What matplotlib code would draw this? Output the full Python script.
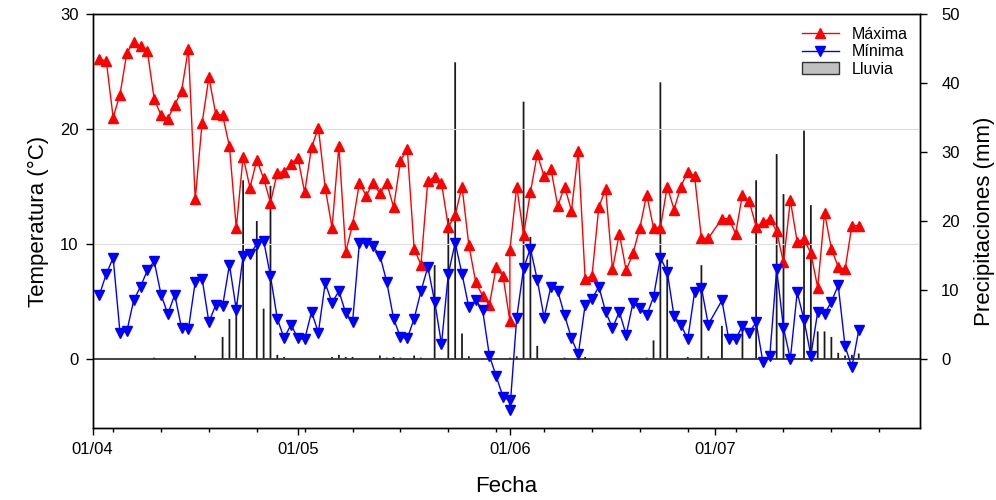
import numpy as np
import matplotlib
matplotlib.use('Agg')
import matplotlib.pyplot as plt
from matplotlib.lines import Line2D
from matplotlib.patches import Patch

plt.rcParams['font.family'] = ['Liberation Sans', 'DejaVu Sans']

# dias contados desde el 01/04 (el 31/05 sale dos veces y falta el 30/06)
dia = np.r_[np.arange(1, 62), 61, np.arange(62, 91), np.arange(92, 113)]

t_max = [26.1, 25.9, 21.0, 23.0, 26.6, 27.6, 27.2, 26.8, 22.6, 21.2,
         20.9, 22.1, 23.3, 27.0, 13.9, 20.5, 24.5, 21.3, 21.2, 18.5,
         11.4, 17.6, 14.9, 17.3, 15.7, 13.6, 16.2, 16.3, 17.0, 17.5,
         14.5, 18.4, 20.1, 14.9, 11.4, 18.5, 9.3, 11.7, 15.3, 14.2,
         15.3, 14.4, 15.3, 13.2, 17.2, 18.3, 9.6, 8.2, 15.5, 15.8,
         15.3, 11.5, 12.5, 15.0, 9.9, 6.7, 5.5, 4.7, 8.0, 7.2,
         3.3, 9.5,
         15.0, 10.8, 14.5, 17.8, 15.9, 16.5, 13.3, 15.0, 12.9, 18.1,
         7.0, 7.2, 13.2, 14.8, 7.8, 10.9, 7.7, 9.2, 11.4, 14.3,
         11.4, 11.4, 15.0, 13.0, 15.0, 16.3, 15.9, 10.5, 10.5,
         12.2, 12.2, 10.9, 14.3, 13.7, 11.5, 11.9, 12.2, 11.1, 8.4,
         13.8, 10.2, 10.4, 9.2, 6.2, 12.7, 9.6, 8.0, 7.8, 11.6, 11.6]

t_min = [5.6, 7.4, 8.8, 2.3, 2.4, 5.1, 6.3, 7.7, 8.5, 5.6,
         3.9, 5.6, 2.7, 2.6, 6.7, 7.0, 3.2, 4.7, 4.6, 8.2,
         4.3, 9.0, 9.1, 10.0, 10.3, 7.2, 3.5, 1.8, 3.0, 1.8,
         1.7, 4.1, 2.3, 6.6, 4.9, 5.9, 4.0, 3.2, 10.1, 10.1,
         9.8, 9.0, 6.7, 3.5, 1.9, 1.8, 3.5, 5.9, 8.0, 5.0,
         1.3, 7.4, 10.1, 7.4, 4.5, 5.1, 4.3, 0.3, -1.5, -3.3,
         -3.6, -4.4,
         3.6, 7.9, 9.6, 6.9, 3.6, 6.3, 5.9, 3.8, 1.8, 0.4,
         4.7, 5.2, 6.3, 4.1, 2.7, 4.1, 2.1, 4.9, 4.4, 3.8,
         5.4, 8.8, 7.6, 3.7, 3.0, 1.7, 5.8, 6.2, 3.0,
         5.1, 1.7, 1.7, 2.9, 2.3, 3.2, -0.3, 0.3, 7.8, 2.7,
         0.0, 5.8, 3.4, 0.3, 4.1, 3.9, 5.0, 6.4, 1.1, -0.7, 2.5]

lluvia_dia = [9, 15, 19, 20, 21, 22, 24, 25, 26, 27, 28,
              35, 36, 37, 38, 42, 43, 44, 45, 47, 48,
              50, 52, 53, 54, 55, 57, 58, 59, 61, 62,
              63, 64, 65, 69, 72, 76, 78, 79, 80, 81,
              82, 83, 84, 87, 89, 90,
              92, 95, 97, 100, 101, 104, 105, 106, 107, 108,
              109, 110, 111, 112]
lluvia_mm = [0.2, 0.5, 3.2, 5.8, 8.2, 25.9, 20.0, 7.3, 25.1, 0.6, 0.3,
             0.3, 0.6, 0.3, 0.3, 0.5, 0.2, 0.3, 0.2, 0.5, 0.2,
             13.6, 20.4, 43.0, 3.7, 0.4, 0.1, 0.1, 0.1, 0.2, 0.4,
             37.3, 17.7, 1.9, 0.2, 0.3, 0.1, 0.1, 0.1, 0.1, 0.2,
             2.7, 40.1, 14.4, 0.3, 13.6, 0.4,
             4.8, 4.4, 25.9, 29.7, 23.9, 33.1, 22.3, 4.0, 4.0, 3.2,
             0.9, 0.5, 0.6, 0.8]

meses = ['01/04', '01/05', '01/06', '01/07']
meses_dia = [0, 30, 61, 91]

fig = plt.figure(figsize=(9.96, 5.0), dpi=100)
ax = fig.add_axes([0.093, 0.144, 0.831, 0.828])
ax2 = ax.twinx()
ax.set_zorder(ax2.get_zorder() + 1)
ax.patch.set_visible(False)

# lluvia en el eje derecho (barras muy finas, se ven como trazos)
ax2.bar(lluvia_dia, lluvia_mm, width=0.26, color='#1a1a1a',
        linewidth=0, snap=False, zorder=2)
ax2.axhline(0, color='#333333', lw=1.3, zorder=3)
ax2.set_ylim(-10, 50)
ax2.set_yticks([0, 10, 20, 30, 40, 50])
ax2.set_ylabel('Precipitaciones (mm)', fontsize=16, labelpad=10)

# temperaturas
ax.plot(dia, t_max, color='red', lw=1, marker='^', ms=7.5, zorder=4)
ax.plot(dia, t_min, color='blue', lw=1, marker='v', ms=7.5, zorder=4)
ax.set_ylim(-6, 30)
ax.set_yticks([0, 10, 20, 30])
for g in (10, 20):
    ax.axhline(g, color='#dddddd', lw=0.8, zorder=0)
ax.set_ylabel('Temperatura (°C)', fontsize=16, labelpad=8)

ax.set_xlim(0, 121)
ax.set_xticks(meses_dia)
ax.set_xticklabels(meses)
ax.set_xticks(np.arange(3, 121, 7), minor=True)
ax.set_xlabel('Fecha', fontsize=16, labelpad=14)

for a in (ax, ax2):
    a.tick_params(axis='both', which='both', direction='out', labelsize=12,
                  length=5, width=1, pad=5)
    a.tick_params(axis='x', which='minor', length=3)
    for s in a.spines.values():
        s.set_linewidth(1)
ax2.tick_params(axis='y', pad=10)

handles = [
    Line2D([], [], color='red', lw=1, marker='^', ms=7.5),
    Line2D([], [], color='blue', lw=1, marker='v', ms=7.5),
    Patch(facecolor='#c0c0c0', edgecolor='#333333'),
]
ax.legend(handles, ['Máxima', 'Mínima', 'Lluvia'], loc='upper right',
          frameon=False, fontsize=11.5, handlelength=2.3, labelspacing=0.15,
          borderaxespad=0.4)

plt.savefig('out.png', dpi=100)
plt.close()
